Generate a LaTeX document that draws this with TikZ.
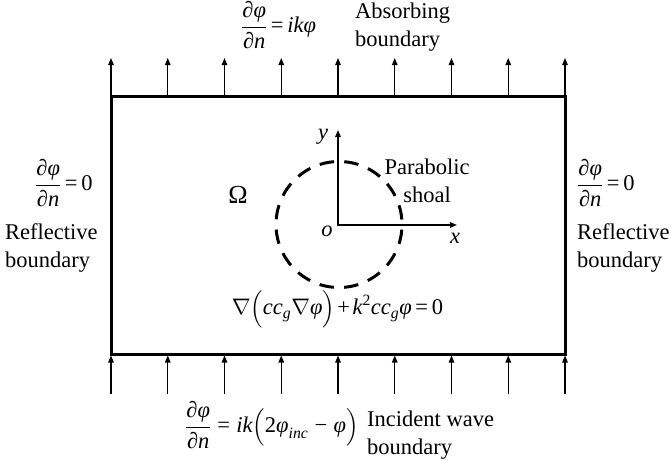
\RequirePackage{fix-cm}
\documentclass[tikz,border=0pt]{standalone}
\usepackage{amsmath}
\usepackage{fontspec}
\setmainfont{Liberation Serif}
\usetikzlibrary{arrows.meta}
\newcommand\vph{\text{\itshape φ}}
\newcommand\teq{\mskip3mu\text{=}\mskip3mu}
\newcommand\weq{\mskip5mu\text{=}\mskip5mu}
\newcommand\tpl{\mskip2mu\text{+}\mskip2mu}
\newcommand\tmi{\mskip5mu\text{−}\mskip5mu}
\newcommand\pdfr[2]{\dfrac{\text{\itshape ∂#1}}{\text{\itshape ∂#2}}}
\tikzset{
  lbl/.style={font=\fontsize{22.5}{28}\selectfont, inner sep=0pt},
  lblL/.style={lbl, align=left, anchor=west},
  arr/.style={line width=1.2pt, -{Triangle[length=7pt,width=5.5pt]}},
  axis/.style={line width=1.5pt, {Triangle[length=7pt,width=5.5pt]}-{Triangle[length=7pt,width=5.5pt]}},
  wall/.style={line width=3pt},
  shoal/.style={line width=3pt, dash pattern=on 14.5pt off 10.25pt, dash phase=19.6pt}
}
\begin{document}
\begin{tikzpicture}[x=1pt,y=-1pt]
\useasboundingbox (0,0) rectangle (671,459);
% boundary arrows
\foreach \i in {0,...,8}{
  \pgfmathsetmacro\xx{111+56.75*\i}
  \coordinate (t\i a) at (\xx,96);
  \coordinate (t\i b) at (\xx,58);
  \draw[arr] (t\i a) -- (t\i b);
  \coordinate (b\i a) at (\xx,394);
  \coordinate (b\i b) at (\xx,355.5);
  \draw[arr] (b\i a) -- (b\i b);
}
% domain
\coordinate (nw) at (111,96);
\coordinate (se) at (565,354);
\draw[wall] (nw) rectangle (se);
% shoal
\coordinate (c) at (339,224.5);
\draw[shoal] (c) circle[radius=63];
% axes
\coordinate (O) at (338,225);
\coordinate (Y) at (338,130);
\coordinate (X) at (457,225);
\draw[axis] (Y) -- (O) -- (X);
\node[lbl] (ylab) at (323,137) {\itshape y};
\node[lbl] (olab) at (327,231) {\itshape o};
\node[lbl] (xlab) at (455,238) {\itshape x};
\node[lbl, font=\fontsize{26}{30}\selectfont] (omega) at (238,195) {Ω};
\node[lbl, align=center] (shoaltxt) at (427,181) {Parabolic\\shoal};
\node[lbl] (gov) at (337.5,309) {$\nabla\Bigl(\text{\itshape cc}_{\text{\itshape g}}\nabla\vph\Bigr)\tpl\text{\itshape k}^{\text{2}}\text{\itshape cc}_{\text{\itshape g}}\vph\teq\text{0}$};
% top
\node[lblL] (topeq) at (241,25) {$\pdfr{φ}{n}\teq\text{\itshape ikφ}$};
\node[lblL] (toptxt) at (355,27) {Absorbing\\boundary};
% left
\node[lblL] (lefteq) at (35,183) {$\pdfr{φ}{n}\teq\text{0}$};
\node[lblL] (lefttxt) at (5,248) {Reflective\\boundary};
% right
\node[lblL] (righteq) at (577,183) {$\pdfr{φ}{n}\teq\text{0}$};
\node[lblL] (righttxt) at (577,248) {Reflective\\boundary};
% bottom
\node[lblL] (boteq) at (185,425) {$\pdfr{φ}{n}\weq\text{\itshape ik}\Bigl(\text{2}\vph_{\text{\itshape inc}}\tmi\vph\Bigr)$};
\node[lblL] (bottxt) at (367,435) {Incident wave\\boundary};
\end{tikzpicture}
\end{document}
